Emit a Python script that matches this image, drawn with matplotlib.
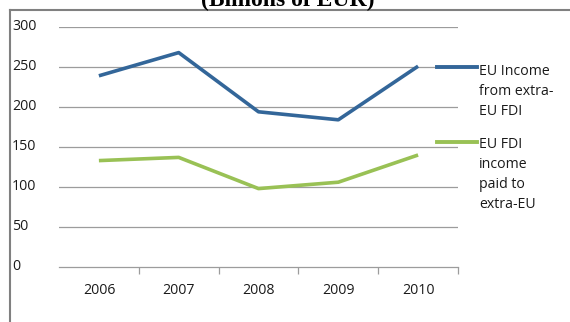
import matplotlib.pyplot as plt
from matplotlib.lines import Line2D

years = ['2006', '2007', '2008', '2009', '2010']
income_from_extra_eu = [239, 268, 194, 184, 251]
income_paid_to_extra_eu = [133, 137, 98, 106, 140]
y_ticks = [0, 50, 100, 150, 200, 250, 300]

W, H = 570, 322
fig = plt.figure(figsize=(W / 100, H / 100), dpi=100)

def fx(px):
    return px / W

def fy(py):
    return 1 - py / H

# plot area: x 59..458, y 27..267 in pixels
ax = fig.add_axes([fx(59), fy(267), fx(458) - fx(59), fy(27) - fy(267)])

x = range(len(years))
ax.plot(x, income_from_extra_eu, color='#336699', lw=2.6, solid_capstyle='butt')
ax.plot(x, income_paid_to_extra_eu, color='#99c155', lw=2.6, solid_capstyle='butt')

grid = '#9c9c9c'
ax.set_xlim(-0.5, len(years) - 0.5)
ax.set_ylim(0, 300)
for v in y_ticks[1:]:
    ax.axhline(v, color=grid, lw=0.9, zorder=0)
for s in ['top', 'right', 'left']:
    ax.spines[s].set_visible(False)
ax.spines['bottom'].set_color(grid)
ax.spines['bottom'].set_linewidth(0.9)

ax.set_yticks(y_ticks)
ax.set_yticklabels([])
ax.tick_params(axis='y', length=0)
ax.set_xticks([i + 0.5 for i in x])
ax.set_xticklabels([])
ax.tick_params(axis='x', length=5, color=grid, width=0.9)

font = 'Open Sans'
fs = 10.2
for i, yr in enumerate(years):
    fig.text(fx(99 + 79.8 * i), fy(291), yr, ha='center', va='center',
             fontsize=fs, family=font, color='#1a1a1a')
for v in y_ticks:
    fig.text(fx(12), fy(267 - v * 0.8), str(v), ha='left', va='center',
             fontsize=fs, family=font, color='#1a1a1a')

# legend
leg = [('#336699', 67, 64, 'EU Income\nfrom extra-\nEU FDI'),
       ('#99c155', 142, 137, 'EU FDI\nincome\npaid to\nextra-EU')]
for col, py, ty, txt in leg:
    fig.add_artist(Line2D([fx(437), fx(477)], [fy(py), fy(py)], color=col, lw=2.8))
    fig.text(fx(479), fy(ty), txt, ha='left', va='top', fontsize=fs,
             family=font, color='#1a1a1a', linespacing=1.45)

# chart border
border = '#808080'
fig.add_artist(Line2D([fx(10), fx(10)], [fy(10), 0], color=border, lw=1.5))
fig.add_artist(Line2D([fx(10), 1], [fy(10), fy(10)], color=border, lw=1.5))

fig.text(fx(288), fy(6), '(Billions of EUR)', ha='center', va='baseline',
         fontsize=17, family='Liberation Serif', weight='bold')

fig.savefig('out.png', dpi=100)
